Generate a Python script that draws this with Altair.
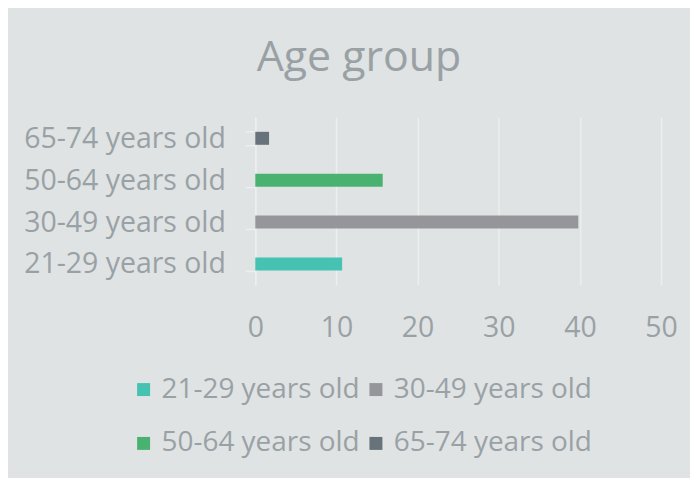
import altair as alt
import pandas as pd

groups = ["21-29 years old", "30-49 years old", "50-64 years old", "65-74 years old"]
values = [10.7, 39.8, 15.7, 1.7]
colors = ["#45c2b2", "#959699", "#4ab270", "#67727a"]
x_ticks = [0, 10, 20, 30, 40, 50]
title_text = "Age group"

df = pd.DataFrame({"group": groups, "value": values})

bg = "#dfe3e4"
txt = "#9aa1a5"
light = "#eceeef"
font = "Open Sans"
fs = 28.5

bars = alt.Chart(df).mark_bar().encode(
    y=alt.Y(
        "group:N", sort=groups[::-1], title=None,
        scale=alt.Scale(paddingInner=0.69, paddingOuter=0.345),
        axis=alt.Axis(labelFontSize=fs, labelColor=txt, labelFont=font,
                      tickBand="extent", tickSize=10, tickColor=light,
                      domainColor=light, labelPadding=20, grid=False,
                      tickWidth=1.5, domainWidth=1.5, labelLimit=300),
    ),
    x=alt.X(
        "value:Q", scale=alt.Scale(domain=[0, 50]), title=None,
        axis=alt.Axis(values=x_ticks, domain=False, ticks=False,
                      gridColor=light, gridWidth=1.5, labelFontSize=fs,
                      labelColor=txt, labelFont=font, labelPadding=29,
                      labelFlush=False),
    ),
    color=alt.Color(
        "group:N", scale=alt.Scale(domain=groups, range=colors),
        legend=alt.Legend(orient="none", legendX=-126, legendY=259, columns=2,
                          direction="horizontal", symbolType="square",
                          symbolSize=169, symbolStrokeWidth=0,
                          labelFontSize=28, labelColor=txt, labelFont=font,
                          labelOffset=4, columnPadding=2, rowPadding=26,
                          title=None, labelLimit=300),
    ),
)

title = alt.Chart(pd.DataFrame({"t": [title_text]})).mark_text(
    fontSize=43, font=font, color=txt, baseline="alphabetic", align="center"
).encode(text="t:N", x=alt.value(104), y=alt.value(-47))

chart = alt.layer(bars, title).properties(
    width=407, height=168, background=bg,
    padding={"left": 248, "top": 109, "right": 29, "bottom": 193},
    autosize=alt.AutoSizeParams(type="none"),
).configure_view(stroke=None)

chart.save("out.html", embed_options={"renderer": "svg", "actions": False})
